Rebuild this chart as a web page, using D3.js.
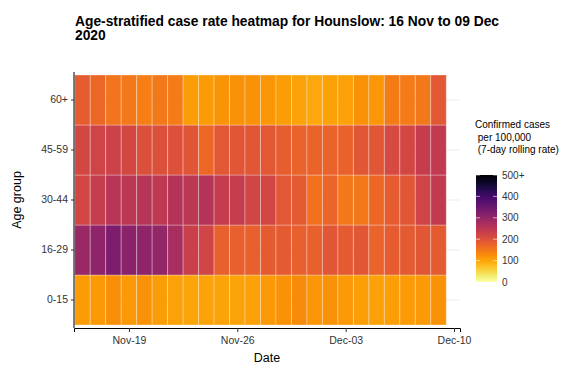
<!DOCTYPE html>
<html><head><meta charset="utf-8">
<script src="https://cdn.jsdelivr.net/npm/d3@7"></script>
<style>body{margin:0;background:#fff;font-family:"Liberation Sans",Arial,sans-serif;}</style>
</head><body><svg id="c" width="581" height="372"></svg>
<script>
const dates = ["2020-11-16","2020-11-17","2020-11-18","2020-11-19","2020-11-20","2020-11-21","2020-11-22","2020-11-23",
"2020-11-24","2020-11-25","2020-11-26","2020-11-27","2020-11-28","2020-11-29","2020-11-30","2020-12-01",
"2020-12-02","2020-12-03","2020-12-04","2020-12-05","2020-12-06","2020-12-07","2020-12-08","2020-12-09"];
const ageGroups = ["0-15","16-29","30-44","45-59","60+"];
const rate0_15  = [110,112,125,112,120,108,105,100,102,102,102,104,113,120,128,116,120,112,106,105,106,110,113,120];
const rate16_29 = [292,305,330,312,306,300,275,230,220,178,178,178,186,186,178,178,193,186,193,175,185,186,193,186];
const rate30_44 = [218,235,252,250,255,245,258,250,258,238,235,220,217,190,186,158,173,150,150,168,185,193,222,242];
const rate45_59 = [215,222,225,215,202,202,200,195,168,190,193,193,190,182,175,175,175,177,193,193,212,215,238,242];
const rate60p   = [185,168,153,150,142,150,146,108,110,118,120,120,115,108,102,97,104,104,120,117,146,145,150,190];
const legendTicks = [0,100,200,300,400,500];
const legendLabels = ["0","100","200","300","400","500+"];
const xTicks = ["2020-11-19","2020-11-26","2020-12-03","2020-12-10"];

const series = {"0-15":rate0_15,"16-29":rate16_29,"30-44":rate30_44,"45-59":rate45_59,"60+":rate60p};
const parse = d3.utcParse("%Y-%m-%d");
const cells = [];
ageGroups.forEach(g => series[g].forEach((v,i) => cells.push({g, d: parse(dates[i]), v})));

const svg = d3.select("#c");
const DAY = 864e5;
const d0 = parse(dates[0]), d1 = parse(dates[dates.length-1]);
const x = d3.scaleUtc().domain([new Date(+d0 - 0.548*DAY), new Date(+d1 + 1.387*DAY)]).range([74, 460]);
const y = d3.scaleBand().domain(ageGroups.slice().reverse()).range([75, 325]);
const color = v => d3.interpolateInferno(1 - Math.min(v,500)/500);

// gridlines
svg.append("g").selectAll("line").data(ageGroups).join("line")
  .attr("x1",74).attr("x2",460)
  .attr("y1",d=>y(d)+y.bandwidth()/2).attr("y2",d=>y(d)+y.bandwidth()/2)
  .attr("stroke","#ebebeb").attr("stroke-width",1);

// tiles
const half = (x(new Date(+d0+DAY)) - x(d0))/2;
svg.append("g").selectAll("rect").data(cells).join("rect")
  .attr("x",d=>x(d.d)-half).attr("width",half*2)
  .attr("y",d=>y(d.g)).attr("height",y.bandwidth())
  .attr("fill",d=>color(d.v))
  .attr("stroke","rgba(255,255,255,0.3)").attr("stroke-width",1);

// x axis
const xa = svg.append("g").attr("transform","translate(0,328)")
  .call(d3.axisBottom(x).tickValues(xTicks.map(parse)).tickFormat(d3.utcFormat("%b-%d")).tickSizeOuter(0).tickSize(4));
xa.select(".domain").attr("stroke","#000");
xa.selectAll(".tick line").attr("stroke","#333");
xa.selectAll("text").attr("fill","#333").attr("font-size",10.5).attr("font-family","Liberation Sans, Arial, sans-serif").attr("dy","0.9em");

// y axis
const ya = svg.append("g").attr("transform","translate(74,0)")
  .call(d3.axisLeft(y).tickSize(3).tickSizeOuter(0));
ya.select(".domain").attr("stroke","#000").attr("d","M0,72V328");
ya.selectAll(".tick line").attr("stroke","#333");
ya.selectAll("text").attr("fill","#333").attr("font-size",10.5).attr("font-family","Liberation Sans, Arial, sans-serif");

// titles
svg.append("text").attr("x",75).attr("y",26).attr("font-weight","bold").attr("font-size",13.8).attr("fill","#000")
  .text("Age-stratified case rate heatmap for Hounslow: 16 Nov to 09 Dec");
svg.append("text").attr("x",75).attr("y",40).attr("font-weight","bold").attr("font-size",13.8).attr("fill","#000")
  .text("2020");
svg.append("text").attr("x",267).attr("y",362).attr("text-anchor","middle").attr("font-size",12.5).attr("fill","#000").text("Date");
svg.append("text").attr("transform","translate(21,200) rotate(-90)").attr("text-anchor","middle").attr("font-size",12.5).attr("fill","#000").text("Age group");

// legend
const lg = svg.append("g");
["Confirmed cases"," per 100,000"," (7-day rolling rate)"].forEach((s,i)=>
  lg.append("text").attr("x",475).attr("y",128+i*12.5).attr("font-size",10).attr("fill","#000").style("white-space","pre").text(s));
const ly = d3.scaleLinear().domain([0,500]).range([282,175]);
const defs = svg.append("defs");
const grad = defs.append("linearGradient").attr("id","g").attr("x1",0).attr("x2",0).attr("y1",1).attr("y2",0);
d3.range(0,1.0001,0.05).forEach(s => grad.append("stop").attr("offset",s).attr("stop-color",color(s*500)));
lg.append("rect").attr("x",476).attr("y",ly(500)).attr("width",21).attr("height",ly(0)-ly(500)).attr("fill","url(#g)");
lg.selectAll("line.tk").data(legendTicks).join("line").attr("class","tk")
  .attr("x1",476).attr("x2",480).attr("y1",d=>ly(d)).attr("y2",d=>ly(d)).attr("stroke","#fff").attr("stroke-opacity",0.6);
lg.selectAll("line.tk2").data(legendTicks).join("line").attr("class","tk2")
  .attr("x1",493).attr("x2",497).attr("y1",d=>ly(d)).attr("y2",d=>ly(d)).attr("stroke","#fff").attr("stroke-opacity",0.6);
lg.selectAll("text.lb").data(legendTicks).join("text").attr("class","lb")
  .attr("x",502).attr("y",d=>ly(d)).attr("dy","0.35em").attr("font-size",10).attr("fill","#333")
  .text((d,i)=>legendLabels[i]);
</script></body></html>
